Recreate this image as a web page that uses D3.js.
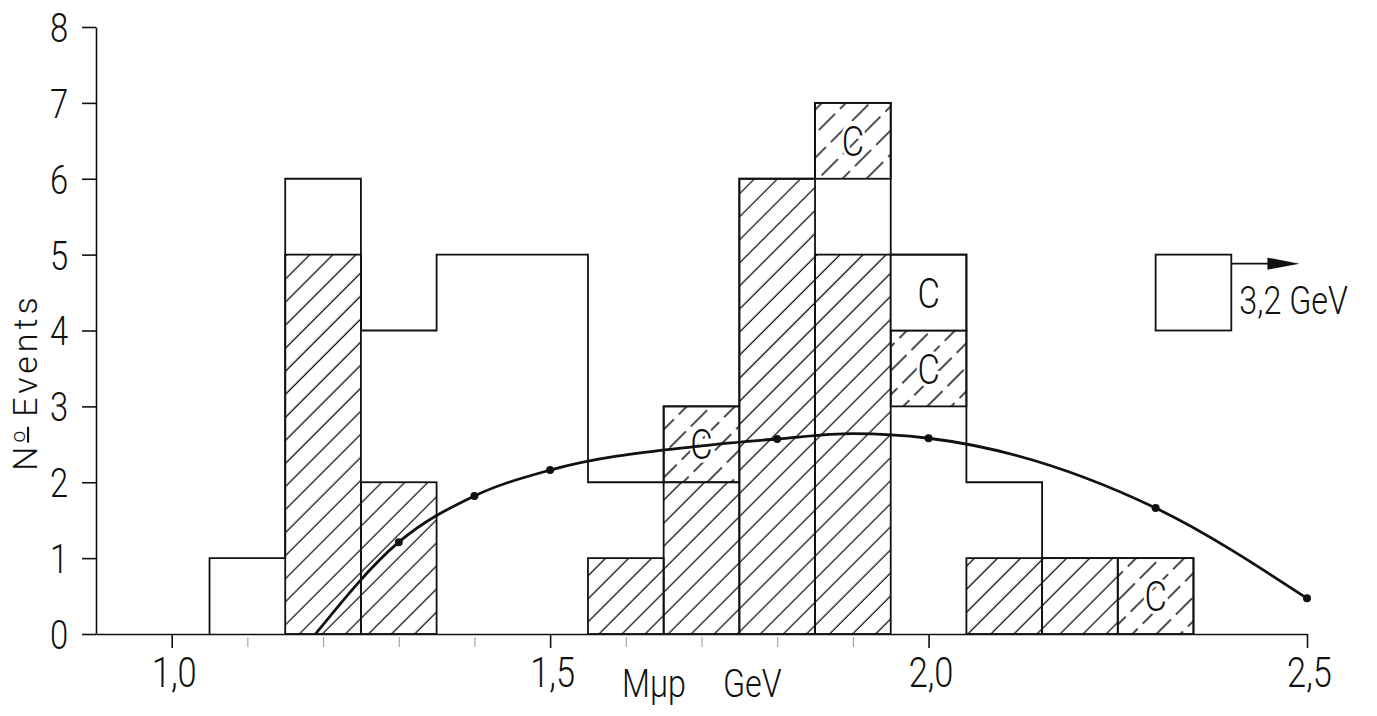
<!DOCTYPE html>
<meta charset="utf-8">
<head>
<script src="https://d3js.org/d3.v7.min.js"></script>
<style>
body { margin: 0; background: #fff; }
text { font-family: Roboto, "DejaVu Sans", sans-serif; font-weight: 300; fill: #111; }
.cond { transform-box: fill-box; transform-origin: center; transform: scaleX(0.82); }
.condl { transform-box: fill-box; transform-origin: left center; transform: scaleX(0.85); }
</style>
</head>
<body>
<svg id="chart"></svg>
<script>
// histogram bins (0.1 GeV wide), counts per layer, stacked bottom -> top
var binCenters = [1.1, 1.2, 1.3, 1.4, 1.5, 1.6, 1.7, 1.8, 1.9, 2.0, 2.1, 2.2, 2.3];
var hatched  = [0, 5, 2, 0, 0, 1, 2, 6, 5, 0, 1, 1, 0];
var open     = [1, 1, 2, 5, 5, 1, 0, 0, 1, 3, 1, 0, 0];
var hatchedC = [0, 0, 0, 0, 0, 0, 1, 0, 1, 1, 0, 0, 1];
var openC    = [0, 0, 0, 0, 0, 0, 0, 0, 0, 1, 0, 0, 0];

// smooth curve
var curveX = [1.19, 1.3, 1.4, 1.5, 1.7, 1.8, 1.9, 2.0, 2.3, 2.5];
var curveY = [0, 1.21, 1.82, 2.16, 2.48, 2.57, 2.64, 2.58, 1.66, 0.47];
var markedX = [1.3, 1.4, 1.5, 1.8, 2.0, 2.3, 2.5];

// overflow event
var overflowBin = [2.30, 2.40];
var overflowCounts = [4, 5];
var overflowArrowEnd = 2.49;
var overflowLabel = "3,2 GeV";

var xTicks = [1.0, 1.5, 2.0, 2.5];
var xMinorTicks = [1.1, 1.2, 1.3, 1.4, 1.6, 1.7, 1.8, 1.9];
var yTicks = [0, 1, 2, 3, 4, 5, 6, 7, 8];
var xTitle = ["M\u03bcp", "GeV"];
var yTitle = ["N", "o", "Events"];

var binWidth = 0.1;
var width = 1377, height = 716;
var svg = d3.select("#chart").attr("width", width).attr("height", height);

var x = d3.scaleLinear().domain([0.9, 2.5]).range([96, 1307]);
var y = d3.scaleLinear().domain([0, 8]).range([634, 27]);

var defs = svg.append("defs");
var hatch = defs.append("pattern").attr("id", "hatch")
    .attr("patternUnits", "userSpaceOnUse").attr("width", 16.3).attr("height", 16.3)
    .attr("patternTransform", "rotate(45)");
hatch.append("line").attr("x1", 8).attr("x2", 8).attr("y1", 0).attr("y2", 16.3)
    .attr("stroke", "#111").attr("stroke-width", 1.3);
var hatchC = defs.append("pattern").attr("id", "hatchC")
    .attr("patternUnits", "userSpaceOnUse").attr("width", 17).attr("height", 30)
    .attr("patternTransform", "rotate(45)");
hatchC.append("line").attr("x1", 8).attr("x2", 8).attr("y1", 0).attr("y2", 23)
    .attr("stroke", "#111").attr("stroke-width", 1.5);

var table = binCenters.map(function(c, i) {
    return {c: c, hatched: hatched[i], open: open[i], hatchedC: hatchedC[i], openC: openC[i]};
});
var keys = ["hatched", "open", "hatchedC", "openC"];
var stacked = d3.stack().keys(keys)(table);

var fills = {hatched: "url(#hatch)", open: "none", hatchedC: "url(#hatchC)", openC: "#fff"};
var strokes = {hatched: "#111", open: "none", hatchedC: "#111", openC: "#111"};

var bars = svg.append("g");
stacked.forEach(function(s) {
    bars.selectAll(null)
      .data(s.filter(function(d) { return d[1] > d[0]; }))
      .enter().append("rect")
      .attr("x", function(d) { return x(d.data.c - binWidth / 2); })
      .attr("width", function(d) { return x(d.data.c + binWidth / 2) - x(d.data.c - binWidth / 2); })
      .attr("y", function(d) { return y(d[1]); })
      .attr("height", function(d) { return y(d[0]) - y(d[1]); })
      .attr("fill", fills[s.key])
      .attr("stroke", strokes[s.key])
      .attr("stroke-width", 1.8);
});

// outer envelope of the histogram
var env = [[binCenters[0] - binWidth / 2, 0]];
table.forEach(function(d) {
    var t = d.hatched + d.open + d.hatchedC + d.openC;
    env.push([d.c - binWidth / 2, t]);
    env.push([d.c + binWidth / 2, t]);
});
env.push([binCenters[binCenters.length - 1] + binWidth / 2, 0]);
svg.append("path")
    .attr("d", d3.line().x(function(d) { return x(d[0]); }).y(function(d) { return y(d[1]); })(env))
    .attr("fill", "none").attr("stroke", "#111").attr("stroke-width", 1.8);

// C labels
["hatchedC", "openC"].forEach(function(k) {
    var s = stacked[keys.indexOf(k)];
    svg.selectAll(null)
      .data(s.filter(function(d) { return d[1] > d[0]; }))
      .enter().append("text")
      .attr("class", "cond")
      .attr("x", function(d) { return x(d.data.c); })
      .attr("y", function(d) { return y((d[0] + d[1]) / 2); })
      .attr("dy", "0.36em")
      .attr("text-anchor", "middle")
      .attr("font-size", 42)
      .style("paint-order", "stroke")
      .attr("stroke", "#fff").attr("stroke-width", 7)
      .text("C");
});

// overflow box + arrow
svg.append("rect")
    .attr("x", x(overflowBin[0])).attr("width", x(overflowBin[1]) - x(overflowBin[0]))
    .attr("y", y(overflowCounts[1])).attr("height", y(overflowCounts[0]) - y(overflowCounts[1]))
    .attr("fill", "none").attr("stroke", "#111").attr("stroke-width", 1.8);
var ay = y(overflowCounts[1]) + 9;
svg.append("line")
    .attr("x1", x(overflowBin[1])).attr("x2", x(overflowArrowEnd) - 28)
    .attr("y1", ay).attr("y2", ay).attr("stroke", "#111").attr("stroke-width", 1.6);
svg.append("path")
    .attr("d", "M" + (x(overflowArrowEnd) - 32) + "," + (ay - 6) + "L" + x(overflowArrowEnd) + "," + ay +
               "L" + (x(overflowArrowEnd) - 32) + "," + (ay + 6) + "Z")
    .attr("fill", "#111");
svg.append("text").attr("class", "condl")
    .attr("x", x(overflowBin[1]) + 8).attr("y", y(overflowCounts[0]) - 16)
    .attr("font-size", 38).text(overflowLabel);

// curve
var pts = curveX.map(function(v, i) { return [v, curveY[i]]; });
svg.append("path")
    .attr("d", d3.line().curve(d3.curveMonotoneX)
        .x(function(d) { return x(d[0]); }).y(function(d) { return y(d[1]); })(pts))
    .attr("fill", "none").attr("stroke", "#111").attr("stroke-width", 2.8);
svg.selectAll(null)
    .data(pts.filter(function(d) { return markedX.indexOf(d[0]) >= 0; }))
    .enter().append("circle")
    .attr("cx", function(d) { return x(d[0]); })
    .attr("cy", function(d) { return y(d[1]); })
    .attr("r", 4).attr("fill", "#111");

// axes
var gx = svg.append("g").attr("transform", "translate(0," + y(0) + ")")
    .call(d3.axisBottom(x).tickValues(xTicks).tickSize(14).tickSizeOuter(0)
        .tickFormat(function(d) { return d.toFixed(1).replace(".", ","); }));
gx.select(".domain").attr("stroke", "#111").attr("stroke-width", 1.6);
gx.selectAll(".tick line").attr("stroke", "#111").attr("stroke-width", 1.6);
gx.selectAll("text").attr("class", "cond").attr("y", 53).attr("dy", 0).attr("x", 2)
    .attr("font-size", 42).attr("font-family", null).attr("fill", "#111");

var gm = svg.append("g").attr("transform", "translate(0," + (y(0) + 3) + ")")
    .call(d3.axisBottom(x).tickValues(xMinorTicks).tickSize(10).tickFormat(""));
gm.select(".domain").remove();
gm.selectAll(".tick line").attr("stroke", "#999").attr("stroke-width", 1);

var gy = svg.append("g").attr("transform", "translate(" + x(0.9) + ",0)")
    .call(d3.axisLeft(y).tickValues(yTicks).tickSize(14).tickSizeOuter(0));
gy.select(".domain").attr("stroke", "#111").attr("stroke-width", 1.6);
gy.selectAll(".tick line").attr("stroke", "#111").attr("stroke-width", 1.6);
gy.selectAll("text").attr("class", "cond").attr("x", -37).attr("text-anchor", "middle")
    .attr("dy", "0.36em").attr("font-size", 40).attr("font-family", null).attr("fill", "#111");

// titles
svg.append("text").attr("class", "condl").attr("x", 622).attr("y", 697)
    .attr("font-size", 38).text(xTitle[0]);
svg.append("text").attr("class", "condl").attr("x", 723).attr("y", 697)
    .attr("font-size", 38).text(xTitle[1]);
var yt = svg.append("text")
    .attr("transform", "translate(37,382) rotate(-90)")
    .attr("text-anchor", "middle").attr("font-size", 34)
    .style("letter-spacing", "4px");
yt.append("tspan").text(yTitle[0]);
yt.append("tspan").attr("dy", -12).attr("font-size", 21)
    .style("text-decoration", "underline").text(yTitle[1]);
yt.append("tspan").attr("dy", 12).attr("dx", 10).text(yTitle[2]);
</script>
</body>
